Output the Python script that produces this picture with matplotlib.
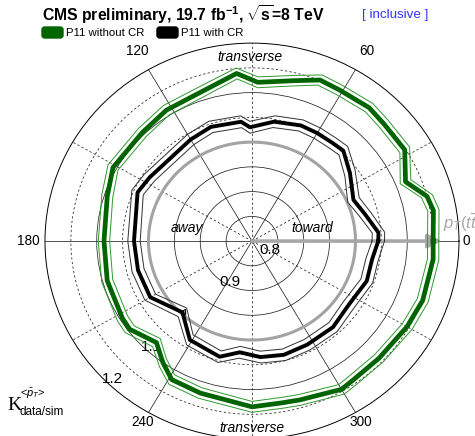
import matplotlib
matplotlib.use('Agg')
import matplotlib.pyplot as plt
import numpy as np
from matplotlib.patches import FancyBboxPatch
from matplotlib.transforms import ScaledTranslation

plt.rcParams['font.family'] = ['Liberation Sans', 'DejaVu Sans']
plt.rcParams['mathtext.fontset'] = 'custom'
plt.rcParams['mathtext.rm'] = 'Liberation Sans'
plt.rcParams['mathtext.it'] = 'Liberation Sans:italic'
plt.rcParams['mathtext.bf'] = 'Liberation Sans:bold'

# K = <pT> data/sim versus azimuth relative to pT(ttbar), in degrees
green_deg = [0, 10, 15, 22, 32, 43, 50, 61, 68, 76, 88, 95, 108, 122, 134, 151,
             162, 180, 196, 212, 217, 228, 235, 241, 252, 270, 280, 286, 300,
             305, 316, 330, 340, 354]
green_val = [1.150, 1.156, 1.150, 1.120, 1.148, 1.148, 1.152, 1.149, 1.151,
             1.134, 1.121, 1.140, 1.117, 1.112, 1.105, 1.107, 1.094, 1.086,
             1.091, 1.095, 1.096, 1.076, 1.100, 1.120, 1.123, 1.135, 1.132,
             1.134, 1.146, 1.142, 1.141, 1.146, 1.151, 1.152]
green_err = 0.011

black_deg = [0, 4, 14, 23, 36, 46, 52, 60, 68, 80, 91, 95, 109, 120, 147, 156,
             180, 195, 210, 227, 239, 255, 264, 274, 285, 297, 312, 326, 340,
             351]
black_val = [1.044, 1.045, 1.025, 1.013, 1.034, 1.054, 1.052, 1.052, 1.052,
             1.045, 1.030, 1.042, 1.044, 1.037, 1.036, 1.042, 1.028, 1.028,
             1.027, 0.997, 1.033, 1.042, 1.026, 1.035, 1.038, 1.035, 1.034,
             1.027, 1.036, 1.035]
black_err = 0.012

r_lo, r_hi = 0.8, 1.2
ref_level = 1.0
ring_vals = [0.85, 0.9, 0.95, 1.0, 1.05, 1.1, 1.15]
dashed_rings = [1.05, 1.15]
radial_ticks = [0.8, 0.9, 1.0, 1.1, 1.2]
radial_labels = ['0.8', '0.9', '1', '1.1', '1.2']
angle_ticks = [0, 60, 120, 180, 240, 300]
angle_labels = ['0', '60', '120', '180', '240', '300']


def closed(deg, val):
    th = np.radians(np.append(deg, deg[0]))
    v = np.append(val, val[0])
    return th, v


fig = plt.figure(figsize=(4.75, 4.36), dpi=100)
ax = fig.add_axes([0.0947, -0.0069, 0.8716, 0.908], projection='polar')
ax.set_aspect('auto')
ax.set_ylim(r_lo, r_hi)

# grid circles and spokes
ax.set_rgrids(ring_vals, labels=[''] * len(ring_vals))
for r, gl in zip(ring_vals, ax.yaxis.get_gridlines()):
    gl.set_color('#222222')
    gl.set_linewidth(0.55)
    gl.set_linestyle((0, (3, 3)) if r in dashed_rings else '-')
ax.set_thetagrids(np.arange(0, 360, 30), labels=[''] * 12)
for i, gl in enumerate(ax.xaxis.get_gridlines()):
    gl.set_color('#222222')
    gl.set_linewidth(0.55)
    gl.set_linestyle('-' if i % 2 == 0 else (0, (3, 3)))
ax.spines['polar'].set_linewidth(0.7)
ax.tick_params(length=0)

full = np.linspace(0, 2 * np.pi, 400)
ax.plot(full, np.full_like(full, ref_level), color='#a3a3a3', lw=2.2, zorder=2)

th, v = closed(green_deg, np.array(green_val))
ax.plot(th, v, color='#006400', lw=3.4, zorder=4)
ax.plot(th, v + green_err, color='#2f9a2f', lw=0.7, zorder=4)
ax.plot(th, v - green_err, color='#2f9a2f', lw=0.7, zorder=4)

th, v = closed(black_deg, np.array(black_val))
ax.plot(th, v, color='black', lw=2.8, zorder=4)
ax.plot(th, v + black_err, color='#303030', lw=0.7, zorder=4)
ax.plot(th, v - black_err, color='#303030', lw=0.7, zorder=4)

# pT(ttbar) direction
ax.annotate('', xy=(0, 1.167), xytext=(0, r_lo),
            arrowprops=dict(arrowstyle='-|>', color='#a8a8a8', lw=2.6,
                            mutation_scale=20, shrinkA=0, shrinkB=0), zorder=3)
ax.text(np.radians(5.6), 1.171, r'$p_{T}(t\bar{t})$', color='#a8a8a8',
        fontsize=12, ha='left', va='center')

# radial labels
shift = ScaledTranslation(7 / 100, -9 / 100, fig.dpi_scale_trans)
for r, lab in zip(radial_ticks, radial_labels):
    ax.text(np.radians(220.7), r, lab, fontsize=11, ha='left', va='center',
            transform=ax.transData + shift, zorder=1)

# angle labels
for a, lab in zip(angle_ticks, angle_labels):
    if a == 0:
        ax.text(0, 1.206, lab, fontsize=9.8, ha='left', va='center')
    elif a == 180:
        ax.text(np.pi, 1.21, lab, fontsize=9.8, ha='right', va='center')
    else:
        rr = 1.243 if a < 180 else 1.222
        ax.text(np.radians(a), rr, lab, fontsize=9.8, ha='center', va='center')

for a, r, lab in [(168, 0.928, 'away'), (12.7, 0.92, 'toward'),
                  (90.6, 1.172, 'transverse'), (270, 1.178, 'transverse')]:
    ax.text(np.radians(a), r, lab, fontsize=10, style='italic',
            ha='center', va='center', zorder=5)

W, H = 475, 436
fig.text(42 / W, 1 - 15 / H,
         r'CMS preliminary, 19.7 fb$^{\mathbf{-1}}$, $\sqrt{\mathbf{s}}$=8 TeV',
         fontsize=11.3, fontweight='bold', ha='left', va='center')
fig.text(362 / W, 1 - 15 / H, '[ inclusive ]', color='#3030ff',
         fontsize=9.6, ha='left', va='center')

for x0, col, lab in [(42, '#006400', 'P11 without CR'), (157, 'black', 'P11 with CR')]:
    fig.patches.append(FancyBboxPatch((x0 / W, 1 - 38 / H), 21 / W, 11 / H,
                                      boxstyle='round,pad=0,rounding_size=0.006',
                                      transform=fig.transFigure, fc=col, ec=col))
    fig.text((x0 + 24) / W, 1 - 33 / H, lab, fontsize=8.2, ha='left', va='center')

# K_{data/sim}^{<pT>} caption
fig.text(7 / W, 1 - 405 / H, 'K', family='Liberation Serif', fontsize=14,
         ha='left', va='center')
fig.text(20 / W, 1 - 394 / H, r'<$\bar{p}_{T}$>', fontsize=8,
         ha='left', va='center')
fig.text(20 / W, 1 - 412 / H, 'data/sim', fontsize=8.5,
         ha='left', va='center')

fig.savefig('out.png', dpi=100)
